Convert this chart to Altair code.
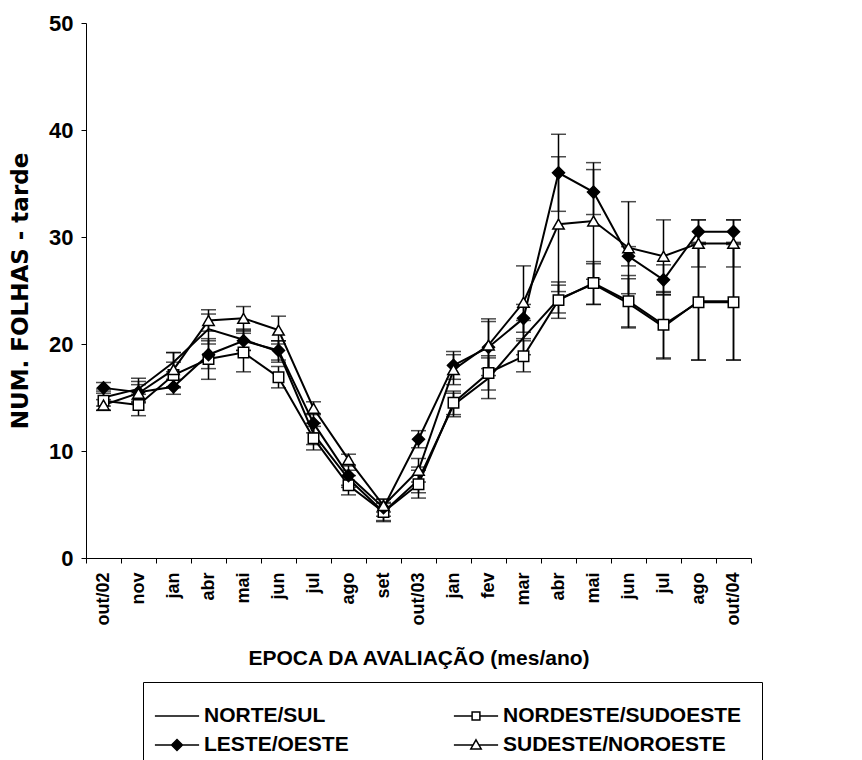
import altair as alt
import pandas as pd

# Evaluation dates (month/year) on the x axis
epocas = ["out/02", "nov", "jan", "abr", "mai", "jun", "jul", "ago", "set",
          "out/03", "jan", "fev", "mar", "abr", "mai", "jun", "jul", "ago", "out/04"]

series = ["NORTE/SUL", "NORDESTE/SUDOESTE", "LESTE/OESTE", "SUDESTE/NOROESTE"]

# Mean number of leaves (afternoon) and error-bar half widths per orientation
norte_sul = [15.0, 15.8, 18.3, 21.4, 20.4, 19.3, 11.6, 7.4, 4.3, 7.3,
             14.3, 16.8, 20.6, 24.2, 25.6, 23.8, 21.6, 24.0, 24.0]
norte_sul_err = [0.8, 1.0, 0.9, 1.4, 1.0, 1.0, 1.0, 0.8, 0.8, 1.2,
                 1.1, 1.9, 1.6, 1.3, 1.9, 2.3, 3.0, 5.5, 5.5]

nordeste_sudoeste = [14.7, 14.3, 17.1, 18.6, 19.2, 16.9, 11.2, 6.8, 4.3, 6.9,
                     14.5, 17.3, 18.85, 24.1, 25.7, 24.0, 21.8, 23.9, 23.9]
nordeste_sudoeste_err = [0.9, 1.0, 1.2, 1.9, 1.8, 1.0, 1.1, 0.9, 0.9, 1.3,
                         1.1, 1.6, 1.45, 1.7, 2.0, 2.4, 3.1, 5.4, 5.4]

leste_oeste = [15.9, 15.5, 16.0, 19.0, 20.3, 19.4, 12.6, 7.7, 4.7, 11.1,
               18.0, 19.7, 22.4, 36.0, 34.2, 28.2, 26.0, 30.5, 30.5]
leste_oeste_err = [0.5, 1.0, 0.7, 1.3, 0.9, 0.9, 0.9, 0.9, 0.8, 0.8,
                   1.3, 2.65, 1.3, 3.6, 2.1, 0.9, 1.4, 1.1, 1.1]

sudeste_noroeste = [14.3, 15.4, 17.6, 22.2, 22.4, 21.3, 14.0, 9.2, 4.9, 8.2,
                    17.6, 19.9, 23.9, 31.2, 31.5, 29.0, 28.2, 29.4, 29.4]
sudeste_noroeste_err = [0.5, 0.8, 1.6, 1.0, 1.1, 1.3, 0.6, 0.5, 0.6, 1.1,
                        1.4, 2.2, 3.4, 6.3, 5.45, 4.3, 3.4, 2.2, 2.2]

valores = [norte_sul, nordeste_sudoeste, leste_oeste, sudeste_noroeste]
erros = [norte_sul_err, nordeste_sudoeste_err, leste_oeste_err, sudeste_noroeste_err]

rows = []
for nome, vals, errs in zip(series, valores, erros):
    for i, (v, e) in enumerate(zip(vals, errs)):
        rows.append({"pos": i, "serie": nome, "valor": v, "lo": v - e, "hi": v + e})
df = pd.DataFrame(rows)

FONT = "Liberation Sans"

label_expr = "[" + ",".join("'%s'" % e for e in epocas) + "][datum.value]"

x_enc = alt.X(
    "pos:O",
    bandPosition=0.5,
    scale=alt.Scale(type="band", paddingInner=0, paddingOuter=0),
    axis=alt.Axis(
        title="EPOCA DA AVALIAÇÃO (mes/ano)",
        labelExpr=label_expr,
        labelAngle=-90,
        labelAlign="right",
        labelBaseline="middle",
        labelFontSize=18,
        tickBand="extent",
        tickSize=5,
        labelPadding=9,
        titlePadding=22,
        titleFontSize=21,
    ),
)

y_scale = alt.Scale(domain=[0, 50], nice=False)

base = alt.Chart(df)

rules = base.mark_rule(color="black", strokeWidth=1.5).encode(
    x=x_enc,
    y=alt.Y("lo:Q", scale=y_scale,
            axis=alt.Axis(title="NUM. FOLHAS - tarde", values=[0, 10, 20, 30, 40, 50],
                          grid=False, tickSize=5, labelPadding=8, labelFontSize=22,
                          titleFont="DejaVu Sans", titleFontSize=23, titlePadding=16)),
    y2="hi:Q",
)

caps = base.transform_fold(["lo", "hi"], as_=["lado", "lim"]).mark_tick(
    color="black", orient="horizontal", size=15, thickness=1.5
).encode(x=x_enc, y=alt.Y("lim:Q", scale=y_scale))

lines = base.mark_line(color="black", strokeWidth=2).encode(
    x=x_enc, y=alt.Y("valor:Q", scale=y_scale), detail="serie:N"
)


def marcadores(nome, forma, cor, tamanho):
    """Markers of one series, drawn with a fixed shape and fill."""
    return base.transform_filter(alt.datum.serie == nome).mark_point(
        shape=forma, fill=cor, stroke="black", strokeWidth=1.5, opacity=1, size=tamanho
    ).encode(x=x_enc, y=alt.Y("valor:Q", scale=y_scale))


pts_ne = marcadores("NORDESTE/SUDOESTE", "square", "white", 110)
pts_l = marcadores("LESTE/OESTE", "diamond", "black", 145)
pts_se = marcadores("SUDESTE/NOROESTE", "triangle-up", "white", 130)

# Legend symbols: a line segment with the series marker in the middle
legend_paths = [
    "M-1.7,0H1.7",
    "M-1.7,0H-0.3M0.3,0H1.7M-0.3,-0.3H0.3V0.3H-0.3Z",
    "M-1.7,0H1.7M0,-0.42L0.42,0L0,0.42L-0.42,0Z",
    "M-1.7,0H-0.23M0.23,0H1.7M0,-0.4L0.4,0.3L-0.4,0.3Z",
]
legend_fills = ["transparent", "white", "black", "white"]

legend = alt.Legend(
    title=None,
    orient="none",
    legendX=57,
    legendY=659,
    direction="horizontal",
    columns=2,
    columnPadding=101,
    rowPadding=5,
    padding=20,
    strokeColor="black",
    fillColor="white",
    labelFont=FONT,
    labelFontSize=21,
    labelFontWeight="bold",
    labelColor="black",
    labelOffset=13,
    labelLimit=400,
    symbolSize=676,
    symbolStrokeWidth=1.5,
    symbolStrokeColor="black",
)

legend_layer = base.transform_filter("false").mark_point(
    strokeWidth=1.5, opacity=1, size=676
).encode(
    x=x_enc,
    y=alt.Y("valor:Q", scale=y_scale),
    shape=alt.Shape("serie:N", scale=alt.Scale(domain=series, range=legend_paths), legend=legend),
    fill=alt.Fill("serie:N", scale=alt.Scale(domain=series, range=legend_fills), legend=legend),
    stroke=alt.Stroke("serie:N", scale=alt.Scale(domain=series, range=["black"] * 4), legend=legend),
)

chart = alt.layer(rules, caps, lines, pts_ne, pts_l, pts_se, legend_layer).properties(
    width=665,
    height=535,
    background="white",
    autosize=alt.AutoSizeParams(type="none"),
    padding={"left": 86, "top": 23, "right": 111, "bottom": 202},
).configure_view(stroke=None).configure_axis(
    domainColor="black",
    domainWidth=1,
    tickColor="black",
    tickWidth=1,
    labelFont=FONT,
    labelFontWeight="bold",
    labelColor="black",
    titleFont=FONT,
    titleFontWeight="bold",
    titleColor="black",
)

chart.save("out.html", embed_options={"renderer": "svg", "actions": False})
